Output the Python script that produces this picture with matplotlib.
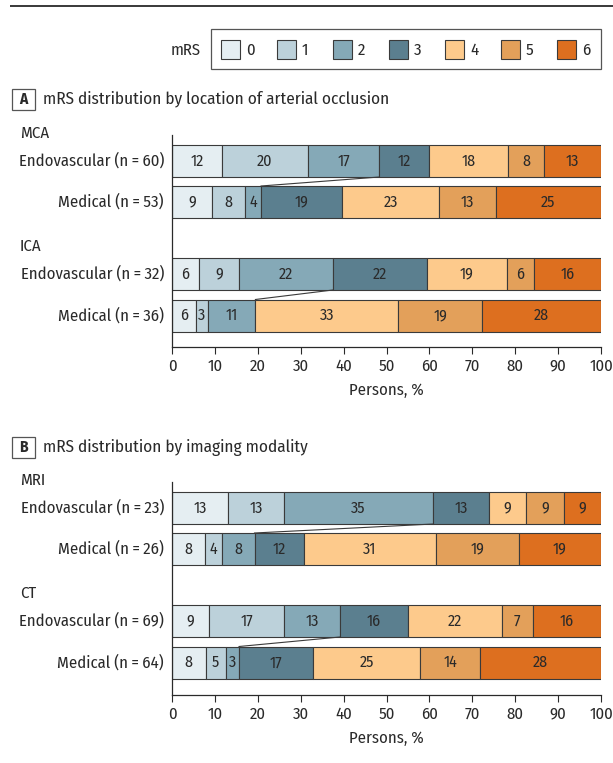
import matplotlib
matplotlib.use("Agg")
import matplotlib.pyplot as plt
from matplotlib.patches import Rectangle
import numpy as np

plt.rcParams['font.family'] = ['Fira Sans Condensed', 'DejaVu Sans']

# ---- data (patient counts per mRS level 0..6) ----
mrs_levels = ['0', '1', '2', '3', '4', '5', '6']
colors = ['#e5eef2', '#bcd1da', '#85a9b7', '#5b7f8f', '#fdca8c', '#e3a05a', '#dd6f1f']

a_groups = ['MCA', 'ICA']
a_rows = ['Endovascular (n\u2009=\u200960)', 'Medical (n\u2009=\u200953)',
          'Endovascular (n\u2009=\u200932)', 'Medical (n\u2009=\u200936)']
mca_endo = [7, 12, 10, 7, 11, 5, 8]
mca_med = [5, 4, 2, 10, 12, 7, 13]
ica_endo = [2, 3, 7, 7, 6, 2, 5]
ica_med = [2, 1, 4, 0, 12, 7, 10]

b_groups = ['MRI', 'CT']
b_rows = ['Endovascular (n\u2009=\u200923)', 'Medical (n\u2009=\u200926)',
          'Endovascular (n\u2009=\u200969)', 'Medical (n\u2009=\u200964)']
mri_endo = [3, 3, 8, 3, 2, 2, 2]
mri_med = [2, 1, 2, 3, 8, 5, 5]
ct_endo = [6, 12, 9, 11, 15, 5, 11]
ct_med = [5, 3, 2, 11, 16, 9, 18]

xticks = list(range(0, 101, 10))
xlabel = 'Persons, %'
title_a = 'mRS distribution by location of arterial occlusion'
title_b = 'mRS distribution by imaging modality'

W, H = 613, 763
fig = plt.figure(figsize=(W / 100, H / 100), dpi=100)
TXT = '#2a2a2a'
EDGE = '#3a3a3a'
FS = 12
FSN = 11.5

# overlay axes in pixel coordinates for frame elements
ov = fig.add_axes([0, 0, 1, 1])
ov.set_xlim(0, W)
ov.set_ylim(H, 0)
ov.axis('off')
ov.plot([10, W], [6, 6], color=TXT, lw=1.3, solid_capstyle='butt')

# legend
ov.add_patch(Rectangle((211, 29), 390, 40, fill=False, ec='#555555', lw=0.9))
ov.text(201, 50, 'mRS', ha='right', va='center', fontsize=FS, color=TXT)
for i, (lab, c) in enumerate(zip(mrs_levels, colors)):
    x0 = 221 + 56 * i
    ov.add_patch(Rectangle((x0, 40), 19, 19, fc=c, ec=EDGE, lw=0.8))
    ov.text(x0 + 25, 50, lab, ha='left', va='center', fontsize=FS, color=TXT)


def panel_label(letter, y, title):
    ov.add_patch(Rectangle((12, y - 10.5), 23, 21, fill=False, ec='#555555', lw=0.9))
    ov.text(23.5, y, letter, ha='center', va='center', fontsize=11, fontweight='bold', color=TXT)
    ov.text(43, y, title, ha='left', va='center', fontsize=12.4, color=TXT)


def draw_panel(top_px, bottom_px, groups, rows, series):
    ax = fig.add_axes([172 / W, 1 - bottom_px / H, (601 - 172) / W, (bottom_px - top_px) / H])
    span = bottom_px - top_px
    ax.set_xlim(0, 100)
    ax.set_ylim(span, 0)
    ypos = [26, 67, 139, 180.5]
    bh = 32
    pcts = []
    for y, counts in zip(ypos, series):
        counts = np.array(counts, dtype=float)
        p = counts / counts.sum() * 100
        pcts.append(p)
        left = 0.0
        for k, v in enumerate(p):
            if v > 0:
                ax.barh(y, v, left=left, height=bh, color=colors[k], edgecolor=EDGE, linewidth=0.8)
                ax.text(left + v / 2, y, f'{int(round(v))}', ha='center', va='center',
                        fontsize=FSN, color=TXT)
            left += v
    # connectors between mRS 0-2 boundary of paired bars
    for j in (0, 2):
        x1 = pcts[j][:3].sum()
        x2 = pcts[j + 1][:3].sum()
        ax.plot([x1, x2], [ypos[j] + bh / 2, ypos[j + 1] - bh / 2], color=EDGE, lw=0.8)
    ax.set_yticks([])
    ax.set_xticks(xticks)
    ax.tick_params(axis='x', direction='out', length=5, width=0.8, colors=TXT, labelsize=FS, pad=3)
    for s in ('top', 'right'):
        ax.spines[s].set_visible(False)
    for s in ('left', 'bottom'):
        ax.spines[s].set_color(TXT)
        ax.spines[s].set_linewidth(0.9)
    ax.set_xlabel(xlabel, fontsize=FS, color=TXT, labelpad=6)
    # row and group labels
    for y, r in zip(ypos, rows):
        ov.text(164, top_px + y, r, ha='right', va='center', fontsize=FS, color=TXT)
    for g, y in zip(groups, (ypos[0], ypos[2])):
        ov.text(20, top_px + y - 28, g, ha='left', va='center', fontsize=FS, color=TXT)
    ax.patch.set_visible(False)
    return ax


panel_label('A', 99, title_a)
draw_panel(135, 347, a_groups, a_rows, [mca_endo, mca_med, ica_endo, ica_med])
panel_label('B', 447, title_b)
draw_panel(482, 695, b_groups, b_rows, [mri_endo, mri_med, ct_endo, ct_med])

fig.savefig('out.png', dpi=100)
